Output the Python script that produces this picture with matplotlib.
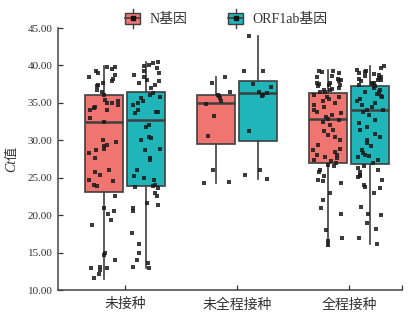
import numpy as np
import matplotlib
matplotlib.use("Agg")
import matplotlib.pyplot as plt
from matplotlib.legend_handler import HandlerBase
from matplotlib.patches import Rectangle
from matplotlib.lines import Line2D

plt.rcParams['font.family'] = ['Liberation Serif', 'Noto Sans CJK SC']

categories = ['未接种', '未全程接种', '全程接种']
series_names = ['N基因', 'ORF1ab基因']
colors = ['#F07470', '#20B5B8']

# box statistics per series, per category
n_q1 = [23.1, 29.5, 27.0]
n_med = [32.5, 35.0, 32.9]
n_q3 = [36.1, 36.1, 36.3]
n_lo = [11.5, 24.3, 15.9]
n_hi = [39.9, 38.5, 39.4]

o_q1 = [23.9, 29.9, 26.8]
o_med = [32.7, 36.3, 34.0]
o_q3 = [36.4, 37.9, 37.2]
o_lo = [12.9, 24.8, 16.2]
o_hi = [40.4, 43.9, 39.9]

# individual Ct values
n_cat0 = [39.8, 39.8, 39.5, 39.2, 39.0, 38.7, 38.5, 38.2, 37.9, 37.6, 37.4, 37.2,
          36.7, 36.5, 36.1, 35.4, 35.2, 35.0, 35.0, 34.7, 34.5, 34.3, 34.1, 34.0,
          33.0, 32.5, 30.1, 29.8, 29.4, 29.2, 28.9, 28.7, 28.3, 27.6, 26.0, 25.8,
          25.4, 24.7, 24.5, 24.0, 23.9, 22.5, 20.9, 20.5, 20.2, 19.4, 18.7, 14.9,
          14.7, 14.0, 13.1, 13.0, 12.9, 12.7, 12.2, 11.6]
o_cat0 = [40.4, 40.3, 40.1, 39.9, 39.6, 39.2, 39.0, 38.7, 38.5, 38.1, 37.9, 37.6,
          37.4, 37.0, 36.3, 36.1, 35.8, 35.6, 35.2, 35.0, 34.7, 34.1, 33.8, 33.8,
          33.6, 32.1, 31.8, 30.5, 30.3, 30.1, 28.9, 28.7, 27.6, 27.4, 26.0, 25.2,
          24.9, 24.7, 24.0, 23.9, 23.8, 23.6, 23.0, 22.5, 21.6, 21.4, 20.9, 20.5,
          17.6, 16.2, 14.9, 14.0, 13.6, 13.1, 12.9]
n_cat1 = [38.4, 37.6, 36.5, 36.1, 35.9, 35.6, 35.2, 34.8, 33.3, 30.6, 26.0, 24.3, 24.4]
o_cat1 = [43.9, 39.3, 39.2, 37.5, 37.1, 36.5, 36.3, 36.1, 35.9, 31.2, 26.0, 25.4, 24.8]
n_cat2 = [39.3, 39.2, 39.1, 39.0, 38.6, 38.4, 38.2, 38.1, 37.9, 37.7, 37.6, 37.5,
          37.4, 37.4, 37.2, 37.0, 36.8, 36.7, 36.7, 36.5, 36.4,
          36.1, 35.8, 35.8, 35.5, 35.3, 35.0, 34.7, 34.5, 34.0, 33.8, 33.7, 33.4,
          33.1, 32.9, 32.7, 32.5, 32.1, 31.4, 31.3, 30.7, 30.5, 30.1, 29.4, 28.9,
          28.7, 28.4, 28.0, 28.0, 27.8, 27.6, 27.4, 27.2, 27.0,
          26.7, 26.5, 26.0, 25.8, 25.2, 24.7, 24.5, 24.3, 22.9, 22.0, 20.9, 20.2,
          18.0, 16.9, 16.5, 16.0]
o_cat2 = [39.9, 39.6, 39.4, 39.2, 39.1, 39.0, 38.9, 38.7, 38.6, 38.4, 38.3, 38.2,
          38.1, 38.0, 37.9, 37.7, 37.6, 37.5, 37.4, 37.3,
          37.0, 36.7, 36.5, 36.4, 36.2, 35.9, 35.8, 35.5, 35.2, 35.0, 34.7, 34.5,
          34.1, 34.0, 33.8, 33.4, 32.7, 32.3, 31.8, 31.4, 30.9, 30.5, 30.1, 29.6,
          29.2, 28.7, 28.3, 28.0, 27.9, 27.8, 27.4, 26.9,
          26.6, 26.3, 26.0, 25.8, 25.4, 25.2, 25.1, 24.7, 24.0, 23.8, 23.6, 22.9,
          21.1, 20.2, 20.0, 19.0, 18.2, 16.9, 16.2]

yticks = [10, 15, 20, 25, 30, 35, 40, 45]

W, H = 409, 316
fig = plt.figure(figsize=(W / 100, H / 100), dpi=100)
ax = fig.add_axes([58 / W, 26 / H, (402 - 58) / W, (290 - 28) / H])

edge = '#3f3f3f'
box_w = 0.34
offsets = [-0.19, 0.19]
rng = np.random.default_rng(7)

all_stats = [
    (n_q1, n_med, n_q3, n_lo, n_hi, [n_cat0, n_cat1, n_cat2]),
    (o_q1, o_med, o_q3, o_lo, o_hi, [o_cat0, o_cat1, o_cat2]),
]
for s, (q1, med, q3, lo, hi, pts) in enumerate(all_stats):
    stats = []
    for i in range(len(categories)):
        stats.append(dict(med=med[i], q1=q1[i], q3=q3[i], whislo=lo[i],
                          whishi=hi[i], fliers=[]))
    pos = [i + offsets[s] for i in range(len(categories))]
    ax.bxp(stats, positions=pos, widths=box_w, patch_artist=True,
           showcaps=False, showfliers=False,
           boxprops=dict(facecolor=colors[s], edgecolor=edge, linewidth=1.2),
           whiskerprops=dict(color=edge, linewidth=1.2),
           medianprops=dict(color=edge, linewidth=1.8), zorder=2)
    for i, vals in enumerate(pts):
        vals = np.asarray(vals)
        jit = rng.uniform(-0.13, 0.13, len(vals))
        ax.scatter(pos[i] + jit, vals, marker='s', s=9, color='#1a1a1a',
                   alpha=0.85, linewidths=0, zorder=3)

ax.set_xlim(-0.598, 2.473)
ax.set_ylim(10, 45)
ax.set_yticks(yticks)
ax.set_yticklabels([f'{v:.2f}' for v in yticks])
ax.set_xticks(range(len(categories)))
ax.set_xticklabels(categories)
ax.set_xticks([2.473], minor=True)
ax.tick_params(axis='both', direction='in', length=3.5, width=0.9,
               color='#333333', labelsize=8, labelcolor='#333333')
ax.tick_params(axis='x', which='major', labelsize=10, pad=6)
ax.tick_params(axis='x', which='minor', direction='in', length=3.5, width=0.9,
               color='#333333')
ax.tick_params(axis='y', pad=4)
for sp in ['top', 'right']:
    ax.spines[sp].set_visible(False)
for sp in ['left', 'bottom']:
    ax.spines[sp].set_linewidth(1.1)
    ax.spines[sp].set_color('#444444')

# y label: italic "Ct" + upright "值"
fig.text(12 / W, 144 / H, 'Ct', rotation=90, ha='center', va='bottom',
         fontsize=10, style='italic', family='Liberation Serif', color='#333333')
fig.text(12 / W, 156 / H, '值', rotation=90, ha='center', va='bottom',
         fontsize=9.5, family='Noto Sans CJK SC', color='#333333')


class BoxHandler(HandlerBase):
    def __init__(self, fc):
        super().__init__()
        self.fc = fc

    def create_artists(self, legend, orig_handle, xdescent, ydescent, width,
                       height, fontsize, trans):
        cx = xdescent + width / 2
        bw = width * 0.9
        bh = height * 0.9
        y0 = -ydescent + (height - bh) / 2
        rect = Rectangle((cx - bw / 2, y0), bw, bh, facecolor=self.fc,
                         edgecolor=edge, linewidth=1.0, transform=trans)
        wl = Line2D([cx, cx], [-ydescent - height * 0.25, -ydescent + height * 1.25],
                    color=edge, linewidth=1.0, transform=trans)
        ml = Line2D([cx - bw / 2, cx + bw / 2], [y0 + bh / 2, y0 + bh / 2],
                    color=edge, linewidth=1.2, transform=trans)
        dot = Line2D([cx], [y0 + bh / 2], marker='s', markersize=2.5,
                     color='#111111', linestyle='none', transform=trans)
        return [wl, rect, ml, dot]


h1 = Rectangle((0, 0), 1, 1)
h2 = Rectangle((0, 0), 1, 1)
fig.legend([h1, h2], series_names, loc='center', bbox_to_anchor=(226 / W, 1 - 19 / H),
           ncol=2, frameon=False, fontsize=10, handlelength=1.2, handleheight=1.0,
           columnspacing=2.9, handletextpad=0.6,
           handler_map={h1: BoxHandler(colors[0]), h2: BoxHandler(colors[1])},
           labelcolor='#333333')

fig.savefig('out.png', dpi=100)
